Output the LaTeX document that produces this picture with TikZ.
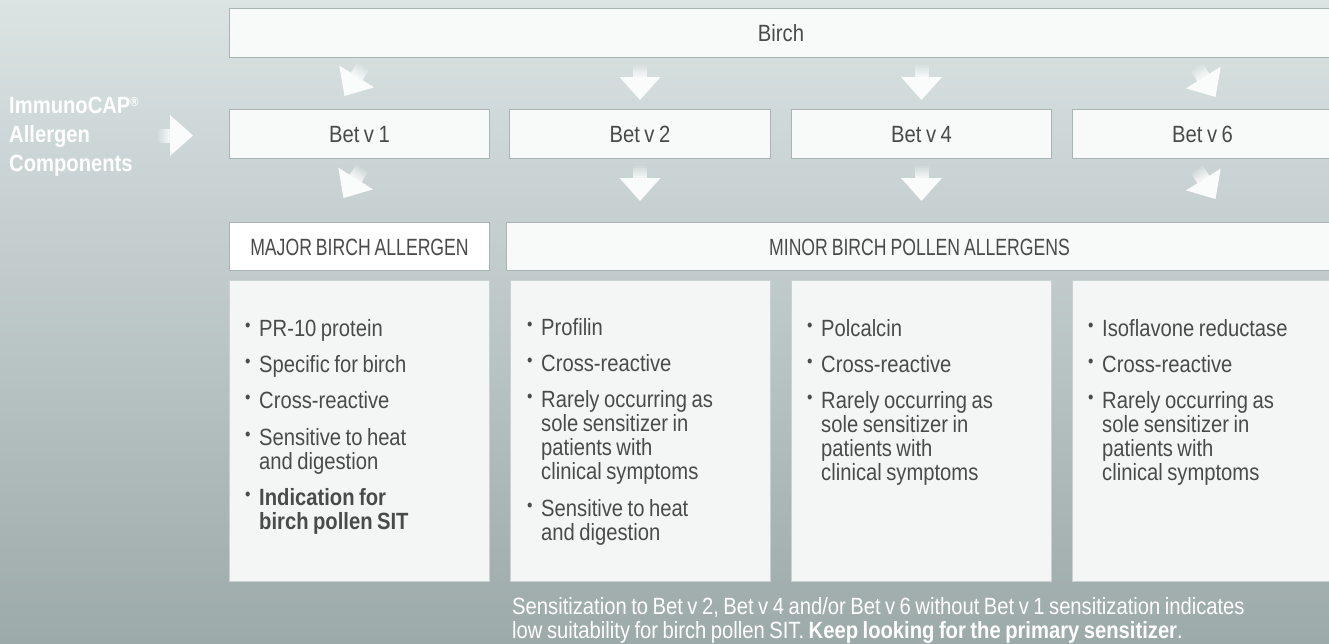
\documentclass[tikz,border=0pt]{standalone}
\usepackage{fontspec}
\setmainfont{Liberation Sans}[FakeStretch=0.86, WordSpace=0.8]
\newfontfamily\capsfont{Liberation Sans}[FakeStretch=0.75, WordSpace=0.8]
\usetikzlibrary{calc}
\definecolor{bgtop}{HTML}{DBE3E3}
\definecolor{bgmid}{HTML}{BDC8C8}
\definecolor{bgbot}{HTML}{9DAAAA}
\definecolor{boxfill}{HTML}{F8FAFA}
\definecolor{boxline}{HTML}{A9B5B5}
\definecolor{cardfill}{HTML}{F4F6F6}
\definecolor{cardline}{HTML}{C9D2D2}
\definecolor{txt}{HTML}{4A4A4A}
\definecolor{arrowc}{HTML}{FAFBFB}
\newcommand{\bul}{\makebox[14pt][l]{\raisebox{4.5pt}{\fontsize{18pt}{18pt}\selectfont •}}}
\newcommand{\ind}{\hspace*{14pt}}
\newcommand{\bodyfont}{\fontsize{23.5pt}{24pt}\selectfont}
\tikzset{
  hbox/.style={draw=boxline, fill=boxfill, line width=1pt, inner sep=0pt,
    minimum height=49pt, anchor=north west, text=txt, font=\bodyfont,
    text height=17pt, text depth=0pt},
  capsbox/.style={hbox, font=\bodyfont\capsfont, minimum height=48pt},
  card/.style={draw=cardline, fill=cardfill, line width=1pt, inner sep=0pt,
    minimum width=260pt, minimum height=301pt, anchor=north west},
  items/.style={anchor=base west, align=left, inner sep=0pt, text=txt, font=\bodyfont},
  blockarrow/.pic={
    \fill[arrowc] (-23,-20.5) -- (0,0) -- (-23,20.5) -- cycle;
    \foreach \i [evaluate=\i as \op using (\i+1)/7] in {0,...,5}{
      \fill[arrowc, fill opacity=\op] (-35+2*\i,-7) rectangle (-33+2*\i,7);
    }
  }
}
\begin{document}
\begin{tikzpicture}[x=1pt, y=-1pt]
\useasboundingbox (0,0) rectangle (1329,643);
\clip (0,0) rectangle (1329,643);
\shade[top color=bgtop, middle color=bgmid, bottom color=bgbot] (0,0) rectangle (1329,643);

% header boxes
\node[hbox, minimum width=1103pt, minimum height=49pt] (birch) at (229,8) {Birch};
\node[hbox, minimum width=260pt] (bet1) at (229,109) {Bet v 1};
\node[hbox, minimum width=261pt] (bet2) at (509,109) {Bet v 2};
\node[hbox, minimum width=260pt] (bet4) at (791,109) {Bet v 4};
\node[hbox, minimum width=260pt] (bet6) at (1072,109) {Bet v 6};
\node[capsbox, fill=white, minimum width=260pt] (major) at (229,222) {MAJOR BIRCH ALLERGEN};
\node[capsbox, minimum width=826pt] (minor) at (506,222) {MINOR BIRCH POLLEN ALLERGENS};

% cards
\node[card] (c1) at (229,280) {};
\node[card] (c2) at (510,280) {};
\node[card] (c3) at (791,280) {};
\node[card] (c4) at (1072,280) {};

% arrows
\path ($(bet1.west)+(-36,1.5)$) pic{blockarrow};
\path ($(bet1.north)+(-15,-13)$) pic[rotate=-122]{blockarrow};
\path ($(bet1.south)+(-16,39)$) pic[rotate=-122]{blockarrow};
\path ($(bet2.north)+(0,-9)$) pic[rotate=-90]{blockarrow};
\path ($(bet2.south)+(0,42)$) pic[rotate=-90]{blockarrow};
\path ($(bet4.north)+(0,-9)$) pic[rotate=-90]{blockarrow};
\path ($(bet4.south)+(0,42)$) pic[rotate=-90]{blockarrow};
\path ($(bet6.north)+(13,-12)$) pic[rotate=-58]{blockarrow};
\path ($(bet6.south)+(13,40)$) pic[rotate=-58]{blockarrow};

% left label (base anchor = last line)
\node[anchor=base west, align=left, inner sep=0pt, text=white,
  font=\fontsize{23.5pt}{29pt}\selectfont\bfseries] (label) at (9,171)
  {ImmunoCAP\raisebox{7pt}{\fontsize{13pt}{13pt}\selectfont ®}\\Allergen\\Components};

% card texts (base anchor = last line)
\node[items] (t1) at (245,529) {\bul PR-10 protein\\[12pt]\bul Specific for birch\\[12pt]\bul Cross-reactive\\[13pt]\bul Sensitive to heat\\\ind and digestion\\[12pt]\bul \textbf{Indication for}\\\ind\textbf{birch pollen SIT}};
\node[items] (t2) at (527,540) {\bul Profilin\\[12pt]\bul Cross-reactive\\[12pt]\bul Rarely occurring as\\\ind sole sensitizer in\\\ind patients with\\\ind clinical symptoms\\[13pt]\bul Sensitive to heat\\\ind and digestion};
\node[items] (t3) at (807,480) {\bul Polcalcin\\[12pt]\bul Cross-reactive\\[12pt]\bul Rarely occurring as\\\ind sole sensitizer in\\\ind patients with\\\ind clinical symptoms};
\node[items] (t4) at (1088,480) {\bul Isoflavone reductase\\[12pt]\bul Cross-reactive\\[12pt]\bul Rarely occurring as\\\ind sole sensitizer in\\\ind patients with\\\ind clinical symptoms};

% bottom note
\node[anchor=base west, align=left, inner sep=0pt, text=white, font=\bodyfont] (note) at (512,638)
  {Sensitization to Bet v 2, Bet v 4 and/or Bet v 6 without Bet v 1 sensitization indicates\\low suitability for birch pollen SIT. \textbf{Keep looking for the primary sensitizer}.};
\end{tikzpicture}
\end{document}
